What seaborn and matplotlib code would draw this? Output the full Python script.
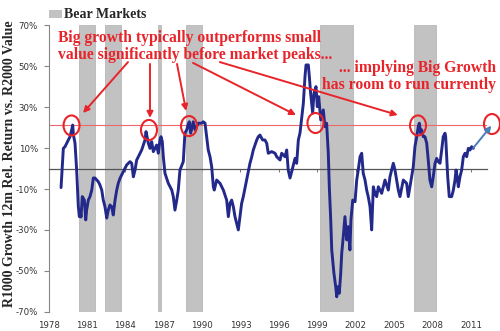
import numpy as np
import pandas as pd
import matplotlib
matplotlib.use("Agg")
import matplotlib.pyplot as plt
from matplotlib.patches import Patch, Ellipse
import seaborn as sns

# ---------------- data ----------------
years = [1978.98, 1979.16, 1979.29, 1979.42, 1979.55, 1979.68, 1979.81, 1979.89, 1979.95, 1980.07,
         1980.20, 1980.33, 1980.41, 1980.50, 1980.54, 1980.64, 1980.80, 1980.91, 1980.98, 1981.11,
         1981.24, 1981.38, 1981.50, 1981.63, 1981.89, 1982.02, 1982.16, 1982.28, 1982.41, 1982.55,
         1982.67, 1982.80, 1982.94, 1983.06, 1983.20, 1983.33, 1983.45, 1983.59, 1983.72, 1983.98,
         1984.11, 1984.37, 1984.50, 1984.63, 1984.76, 1984.89, 1985.15, 1985.28, 1985.54, 1985.62,
         1985.80, 1985.93, 1986.06, 1986.19, 1986.32, 1986.45, 1986.58, 1986.71, 1986.79, 1986.89,
         1986.97, 1987.10, 1987.36, 1987.63, 1987.75, 1987.88, 1988.02, 1988.14, 1988.27, 1988.53,
         1988.66, 1988.80, 1988.90, 1989.00, 1989.11, 1989.31, 1989.45, 1989.70, 1989.97, 1990.09,
         1990.23, 1990.36, 1990.48, 1990.62, 1990.75, 1990.88, 1990.95, 1991.14, 1991.40, 1991.66,
         1991.92, 1992.05, 1992.18, 1992.31, 1992.44, 1992.57, 1992.83, 1992.96, 1993.09, 1993.22,
         1993.48, 1993.74, 1993.88, 1994.00, 1994.27, 1994.39, 1994.52, 1994.73, 1994.91, 1995.05,
         1995.17, 1995.44, 1995.70, 1995.83, 1996.09, 1996.22, 1996.48, 1996.61, 1996.73, 1996.87,
         1997.00, 1997.26, 1997.39, 1997.52, 1997.65, 1997.91, 1998.04, 1998.12, 1998.30, 1998.38,
         1998.48, 1998.64, 1998.74, 1998.90, 1999.00, 1999.11, 1999.27, 1999.37, 1999.47, 1999.60,
         1999.73, 1999.86, 1999.94, 2000.05, 2000.13, 2000.23, 2000.30, 2000.44, 2000.52, 2000.59,
         2000.72, 2000.83, 2000.91, 2001.03, 2001.16, 2001.30, 2001.42, 2001.55, 2001.63, 2001.77,
         2001.95, 2002.08, 2002.20, 2002.34, 2002.47, 2002.59, 2002.73, 2002.86, 2002.98, 2003.12,
         2003.25, 2003.38, 2003.51, 2003.64, 2003.77, 2003.90, 2004.03, 2004.16, 2004.29, 2004.42,
         2004.55, 2004.68, 2004.81, 2004.94, 2005.07, 2005.20, 2005.33, 2005.46, 2005.72, 2005.98,
         2006.11, 2006.24, 2006.50, 2006.63, 2006.77, 2006.89, 2006.97, 2007.08, 2007.16, 2007.28,
         2007.41, 2007.55, 2007.67, 2007.80, 2007.94, 2008.06, 2008.20, 2008.33, 2008.45, 2008.59,
         2008.72, 2008.84, 2008.98, 2009.03, 2009.11, 2009.19, 2009.31, 2009.50, 2009.63, 2009.76,
         2009.84, 2009.89, 2010.02, 2010.15, 2010.28, 2010.41, 2010.54, 2010.67, 2010.80, 2010.93,
         2011.06, 2011.19]
rel_return = [-9.3, 9.9, 10.7, 12.4, 14.0, 15.6, 18.9, 21.3, 16.4, 12.5,
              -0.7, -18.6, -23.5, -21.7, -23.7, -13.7, -15.4, -25.1, -20.3, -15.4,
              -13.7, -10.5, -4.6, -4.6, -6.4, -8.0, -10.5, -15.4, -18.6, -24.2,
              -20.3, -17.8, -18.6, -22.7, -15.4, -10.5, -7.2, -4.7, -3.1, 0.1,
              1.8, 3.4, 2.6, -4.0, -0.7, 4.2, 7.5, 9.1, 14.0, 18.1,
              12.4, 9.9, 13.2, 8.3, 9.9, 11.5, 7.5, 14.0, 15.6, 13.2,
              5.8, -2.3, -7.2, -10.5, -13.7, -20.3, -15.4, -10.5, -0.7, 3.4,
              17.4, 18.9, 21.3, 22.9, 17.3, 22.9, 18.9, 22.2, 22.2, 22.9,
              22.2, 15.6, 9.1, 5.8, 0.9, -8.9, -10.5, -5.6, -7.2, -10.5,
              -15.4, -23.5, -17.0, -15.4, -18.6, -23.5, -30.0, -23.5, -17.0, -13.7,
              -5.6, 2.6, 5.8, 9.1, 14.0, 15.6, 16.4, 14.0, 14.0, 12.4,
              7.5, 8.3, 7.5, 5.8, 4.2, 7.5, 5.8, 9.1, -0.7, -4.6,
              -1.5, 5.0, 2.6, 14.0, 17.4, 31.9, 45.0, 50.7, 50.7, 45.0,
              36.8, 27.1, 36.8, 40.1, 30.3, 35.2, 23.8, 26.2, 28.7, 20.5,
              22.2, 7.5, -8.9, -25.1, -39.8, -46.3, -51.2, -57.8, -62.7, -57.8,
              -61.0, -51.2, -41.4, -33.3, -23.5, -34.9, -28.4, -39.8, -25.1, -15.4,
              -16.2, -5.6, -0.7, 5.8, 7.5, -2.3, -5.6, -10.5, -13.7, -18.6,
              -30.0, -8.9, -12.1, -13.7, -8.9, -10.5, -12.1, -8.9, -5.6, -8.0,
              -10.5, -4.0, -0.7, 2.6, -0.7, -5.6, -10.5, -13.7, -5.6, -7.2,
              -13.7, -8.9, 0.9, 10.7, 15.6, 20.5, 22.2, 17.3, 18.9, 15.6,
              15.6, 12.4, 4.2, -5.6, -8.9, -4.0, 2.6, 5.0, 3.4, 2.6,
              9.1, 15.6, 17.3, 15.6, 5.8, -4.0, -13.7, -13.7, -10.5, -5.6,
              -0.7, -2.3, -8.9, -4.0, -0.7, 5.8, 7.5, 5.8, 9.9, 9.1,
              10.7, 9.9]

bear_start = [1980.41, 1982.41, 1986.58, 1988.74, 1999.21, 2006.55]
bear_end = [1981.63, 1983.64, 1986.81, 1989.97, 2001.81, 2008.25]

year_ticks = list(range(1978, 2012, 3))
pct_ticks = [-70, -50, -30, -10, 10, 30, 50, 70]
threshold = 21.2

peak_x = [1979.80, 1985.85, 1988.98, 1998.86, 2006.87, 2012.65]
peak_y = [21.1, 18.9, 20.8, 22.3, 21.1, 21.8]

arrow_from = [(1984.21, 52.1), (1985.93, 51.2), (1988.04, 51.2), (1989.29, 51.7), (1991.39, 52.1)]
arrow_to = [(1980.70, 27.2), (1985.93, 24.8), (1988.75, 28.2), (1997.34, 26.2), (2005.29, 26.2)]
blue_from = (2011.19, 10.1)
blue_to = (2012.60, 21.0)

note_left = "Big growth typically outperforms small\nvalue significantly before market peaks..."
note_right = "... implying Big Growth\nhas room to run currently"
legend_label = "Bear Markets"
y_label = "R1000 Growth 12m Rel. Return vs. R2000 Value"

# ---------------- style ----------------
sns.set_style("white")
plt.rcParams['font.family'] = ['DejaVu Sans']

RED = '#e8242a'
NAVY = '#23298a'
GRAY = '#c2c2c2'
SERIF = ['Liberation Serif', 'DejaVu Serif']

fig = plt.figure(figsize=(5, 3.31), dpi=100)
ax = fig.add_axes([0.097, 0.0583, 0.877, 0.8647])

for s, e in zip(bear_start, bear_end):
    ax.axvspan(s, e, facecolor=GRAY, edgecolor='#b0b0b0', lw=0.5, zorder=1)

ax.axhline(threshold, color='#ee6a6a', lw=0.8, zorder=2)

df = pd.DataFrame({'year': years, 'rel': rel_return})
sns.lineplot(data=df, x='year', y='rel', ax=ax, color=NAVY, lw=2.1,
             estimator=None, sort=False, zorder=4)

ax.set_xlim(1978, 2012.26)
ax.set_ylim(-70, 70)
ax.set_xlabel('')
ax.set_ylabel(y_label, family=SERIF, fontweight='bold', fontsize=9)
ax.yaxis.set_label_coords(-0.073, 0.516)

# y axis
ax.set_yticks(pct_ticks)
ax.set_yticklabels([f"{v}%" for v in pct_ticks])
ax.tick_params(axis='y', length=3.6, width=0.8, color='#868686', pad=4,
               labelsize=6.2, labelcolor='#333333', left=True)
ax.spines['left'].set_color('#868686')
ax.spines['left'].set_linewidth(0.8)
ax.spines['right'].set_visible(False)
ax.spines['top'].set_visible(False)

# zero line as x axis spine with small ticks
ax.spines['bottom'].set_position(('data', 0))
ax.spines['bottom'].set_color('#555555')
ax.spines['bottom'].set_linewidth(0.9)
ax.set_xticks(year_ticks)
ax.tick_params(axis='x', direction='out', length=2.2, width=0.7, color='#777777',
               labelbottom=False, bottom=True)

sec = ax.secondary_xaxis(0.0)
sec.set_xticks(year_ticks)
sec.set_xticklabels([str(y) for y in year_ticks])
sec.tick_params(length=0, pad=7, labelsize=6.2, labelcolor='#333333')
sec.spines['bottom'].set_visible(False)

# circles round the peaks
for cx, cy in zip(peak_x, peak_y):
    ax.add_patch(Ellipse((cx, cy), 1.25, 9.8, fill=False, edgecolor=RED, lw=1.5,
                         clip_on=False, zorder=6))

# red arrows
for (x0, y0), (x1, y1) in zip(arrow_from, arrow_to):
    ax.annotate('', xy=(x1, y1), xytext=(x0, y0), annotation_clip=False,
                arrowprops=dict(arrowstyle='-|>', color=RED, lw=1.4,
                                mutation_scale=9, shrinkA=0, shrinkB=0), zorder=7)
ax.annotate('', xy=blue_to, xytext=blue_from, annotation_clip=False,
            arrowprops=dict(arrowstyle='-|>', color='#4a7ebb', lw=1.4,
                            mutation_scale=9, shrinkA=0, shrinkB=0), zorder=7)

# texts
t1 = ax.text(1978.74, 67.8, note_left, ha='left', va='top', color=RED, fontsize=10,
             fontweight='bold', family=SERIF, linespacing=1.12, zorder=8)
t2 = ax.text(2013.0, 53.1, note_right, ha='right', va='top', color=RED, fontsize=10,
             fontweight='bold', family=SERIF, linespacing=1.12, multialignment='right',
             zorder=8, clip_on=False)

# legend above the plot
fig.legend(handles=[Patch(facecolor=GRAY, edgecolor='none', label=legend_label)],
           loc='center left', bbox_to_anchor=(48.5 / 500, 1 - 15 / 331),
           bbox_transform=fig.transFigure, frameon=False, borderpad=0,
           borderaxespad=0, handlelength=1.0, handleheight=0.5, handletextpad=0.15,
           prop={'family': SERIF, 'weight': 'bold', 'size': 10})

# scale texts so their lengths match the reference (in pixels)
fig.canvas.draw()
rend = fig.canvas.get_renderer()
for art, target in [(t1, 275.0), (t2, 174.0), (ax.yaxis.label, 285.0)]:
    bb = art.get_window_extent(rend)
    length = max(bb.width, bb.height)
    art.set_fontsize(art.get_fontsize() * target / length)
for art in (t1, t2):
    art.set_linespacing(17.0 / (art.get_fontsize() * 100 / 72) * 0.96)

fig.savefig('out.png', dpi=100)
